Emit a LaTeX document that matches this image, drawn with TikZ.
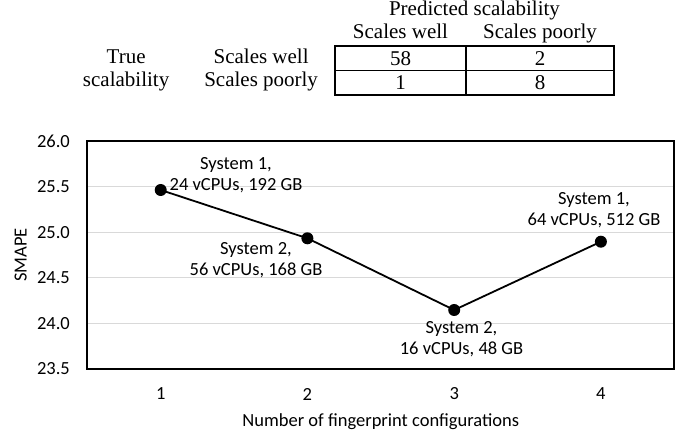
\documentclass[tikz,border=0pt]{standalone}
\usepackage{fontspec}
\setmainfont{Liberation Serif}
\newfontfamily\chartfont{Carlito}
\usetikzlibrary{matrix, positioning}

\begin{document}
\begin{tikzpicture}[
        x=1pt, y=-1pt,
        tabtext/.style={font=\fontsize{21}{24}\selectfont, inner sep=0pt, text height=14pt, text depth=4.5pt},
        box/.style={draw, line width=1.2pt, minimum height=24.5pt},
        frame/.style={draw, line width=2pt},
        gridline/.style={draw=black!15, line width=1.3pt},
        dot/.style={circle, fill, inner sep=0pt, minimum size=12pt},
        series/.style={line width=1.8pt},
        chart/.style={font=\chartfont\fontsize{18.5}{21}\selectfont, inner sep=0pt},
        datalabel/.style={chart, align=center}
    ]
    \useasboundingbox (0,0) rectangle (683,435);

    % confusion table
    \matrix (T) [matrix of nodes, nodes={box, tabtext, text depth=0pt}, column sep=-1.2pt, row sep=-1.2pt, inner sep=0pt,
        column 1/.style={nodes={minimum width=131pt}}, column 2/.style={nodes={minimum width=148pt}}] at (474.5,70.5) {
        58 & 2 \\
        1  & 8 \\
    };

    \matrix (R) [matrix of nodes, nodes={tabtext, minimum height=24.5pt}, column sep=35pt, row sep=-1.2pt, inner sep=0pt, left=16pt of T] {
        True        & Scales well   \\
        scalability & Scales poorly \\
    };

    \node (hw) [tabtext, above=2pt of T-1-1] {Scales well};
    \node (hp) [tabtext, above=2pt of T-1-2] {Scales poorly};
    \path (T.north |- hw.north) node (pred) [tabtext, above=4pt] {Predicted scalability};

    % chart
    \draw[gridline] (87.3,186.6) -- (674.3,186.6);
    \draw[gridline] (87.3,232.2) -- (674.3,232.2);
    \draw[gridline] (87.3,277.8) -- (674.3,277.8);
    \draw[gridline] (87.3,323.4) -- (674.3,323.4);
    \draw[frame] (87.3,141) rectangle (674.3,369);

    \node (y260) [chart, anchor=east] at (70,141) {26.0};
    \node (y255) [chart, anchor=east] at (70,186.6) {25.5};
    \node (y250) [chart, anchor=east] at (70,232.2) {25.0};
    \node (y245) [chart, anchor=east] at (70,277.8) {24.5};
    \node (y240) [chart, anchor=east] at (70,323.4) {24.0};
    \node (y235) [chart, anchor=east] at (70,369) {23.5};

    \node (x1) [chart] at (160.7,394) {1};
    \node (x2) [chart] at (307.4,394) {2};
    \node (x3) [chart] at (454.2,394) {3};
    \node (x4) [chart] at (600.9,394) {4};

    \node (xtitle) [chart, anchor=base] at (380.8,427) {Number of fingerprint configurations};
    \node (ytitle) [chart, rotate=90] at (20.7,255) {SMAPE};

    \node (p1) [dot] at (160.7,190) {};
    \node (p2) [dot] at (307.4,238.3) {};
    \node (p3) [dot] at (454.2,310) {};
    \node (p4) [dot] at (600.9,241.7) {};
    \draw[series] (p1.center) -- (p2.center) -- (p3.center) -- (p4.center);

    \node (l1) [datalabel] at (236,175.6) {System 1,\\24 vCPUs, 192 GB};
    \node (l2) [datalabel] at (256,260) {System 2,\\56 vCPUs, 168 GB};
    \node (l3) [datalabel] at (461.5,338.7) {System 2,\\16 vCPUs, 48 GB};
    \node (l4) [datalabel] at (594,210.3) {System 1,\\64 vCPUs, 512 GB};
\end{tikzpicture}
\end{document}
